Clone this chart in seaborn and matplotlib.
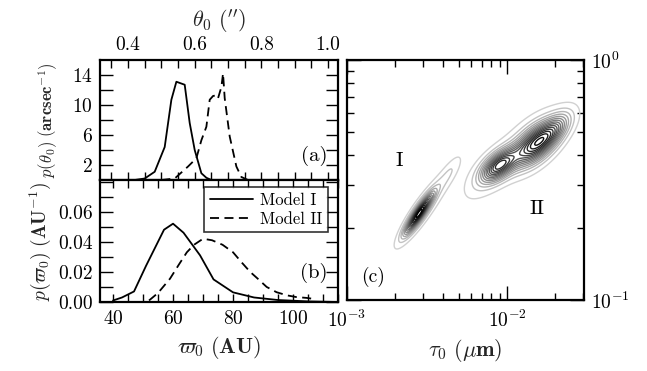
import numpy as np
import pandas as pd
import matplotlib
matplotlib.use("Agg")
import matplotlib.pyplot as plt
import seaborn as sns
from matplotlib.ticker import MultipleLocator, FixedLocator, FormatStrFormatter, NullFormatter

# ---------------- data ----------------
# panel (a): p(theta_0)
theta_I = [0.42, 0.45, 0.48, 0.51, 0.53, 0.545, 0.57, 0.585, 0.60, 0.62, 0.635, 0.65, 0.70]
p_theta_I = [0.0, 0.2, 1.1, 4.4, 10.7, 13.1, 12.7, 7.6, 4.0, 0.9, 0.3, 0.0, 0.0]
theta_II = [0.50, 0.54, 0.58, 0.605, 0.62, 0.635, 0.645, 0.655, 0.665, 0.67, 0.68, 0.685, 0.69, 0.705, 0.725, 0.74, 0.76]
p_theta_II = [0.0, 0.2, 1.8, 2.9, 5.3, 7.1, 10.7, 11.2, 11.3, 10.9, 12.4, 14.2, 10.9, 5.8, 1.8, 0.4, 0.0]

# panel (b): p(varpi_0)
varpi_I = [40, 43, 47, 51, 57, 60, 63.5, 69, 73.5, 80, 87, 95, 105, 115]
p_varpi_I = [0.001, 0.003, 0.007, 0.024, 0.048, 0.052, 0.046, 0.031, 0.015, 0.0064, 0.003, 0.0013, 0.0004, 0.0]
varpi_II = [52, 55, 59, 62, 64.6, 67, 70, 73, 76.5, 80, 83, 85.7, 88.5, 91.2, 94.5, 98, 101, 104.6, 107]
p_varpi_II = [0.001, 0.006, 0.0155, 0.025, 0.033, 0.038, 0.042, 0.041, 0.038, 0.033, 0.026, 0.020,
              0.015, 0.010, 0.0065, 0.0044, 0.0033, 0.0027, 0.002]

models = ["Model I", "Model II"]

# panel (c): density blobs in log10(tau0), log10(y) space
blob_u = [-2.55, -2.50, -2.36, -1.82, -2.05, -1.70, -1.93, -2.18]
blob_v = [-0.64, -0.60, -0.47, -0.35, -0.44, -0.29, -0.37, -0.52]
blob_smaj = [0.075, 0.15, 0.06, 0.10, 0.08, 0.08, 0.17, 0.09]
blob_smin = [0.018, 0.032, 0.02, 0.045, 0.035, 0.035, 0.06, 0.045]
blob_ang = [43, 43, 43, 27, 24, 30, 30, 27]
blob_amp = [1.0, 0.12, 0.07, 0.85, 0.8, 0.35, 0.08, 0.05]

# ---------------- style ----------------
sns.set_style("ticks")
plt.rcParams.update({
    "font.family": ["cmr10", "DejaVu Serif"],
    "mathtext.fontset": "cm",
    "axes.unicode_minus": False,
    "axes.formatter.use_mathtext": True,
    "axes.linewidth": 1.5,
    "axes.edgecolor": "black",
    "xtick.color": "black",
    "ytick.color": "black",
    "text.color": "black",
})

fig = plt.figure(figsize=(6.47, 3.71), dpi=100)
axA = fig.add_axes([0.1546, 0.5148, 0.3679, 0.3235])
axB = fig.add_axes([0.1546, 0.186, 0.3679, 0.3288])
axC = fig.add_axes([0.5363, 0.1914, 0.3663, 0.647])

dfA = pd.DataFrame({
    "theta": theta_I + theta_II,
    "p": p_theta_I + p_theta_II,
    "model": [models[0]] * len(theta_I) + [models[1]] * len(theta_II),
})
dfB = pd.DataFrame({
    "varpi": varpi_I + varpi_II,
    "p": p_varpi_I + p_varpi_II,
    "model": [models[0]] * len(varpi_I) + [models[1]] * len(varpi_II),
})

sns.lineplot(data=dfA, x="theta", y="p", style="model", style_order=models,
             dashes=["", (5, 3)], color="k", lw=1.3, ax=axA, legend=False)
sns.lineplot(data=dfB, x="varpi", y="p", style="model", style_order=models,
             dashes=["", (5, 3)], color="k", lw=1.3, ax=axB, legend=False)

# panel (a) axes
axA.set_xlim(0.316, 1.030)
axA.set_ylim(0, 16)
axA.xaxis.set_major_locator(MultipleLocator(0.2))
axA.xaxis.set_minor_locator(MultipleLocator(0.05))
axA.xaxis.set_major_formatter(FormatStrFormatter("%.1f"))
axA.yaxis.set_major_locator(FixedLocator([2, 6, 10, 14]))
axA.yaxis.set_minor_locator(FixedLocator([4, 8, 12]))
axA.tick_params(axis="x", which="both", direction="in", top=True, bottom=True,
                labeltop=True, labelbottom=False, length=6, width=1.0, labelsize=14, pad=4)
axA.tick_params(axis="y", which="both", direction="in", left=True, right=True,
                length=9, width=1.0, labelsize=14, pad=5)
axA.set_xlabel(r"$\theta_0\ (^{\prime\prime})$", fontsize=16, labelpad=7)
axA.xaxis.set_label_position("top")
axA.set_ylabel(r"$p(\theta_0)\ \mathbf{(arcsec^{-1})}$", fontsize=12, labelpad=9)
axA.text(0.955, 0.2, "(a)", transform=axA.transAxes, ha="right", va="center", fontsize=15)

# panel (b) axes
axB.set_xlim(35.67, 115.0)
axB.set_ylim(0, 0.081)
axB.xaxis.set_major_locator(MultipleLocator(20))
axB.xaxis.set_minor_locator(MultipleLocator(5))
axB.yaxis.set_major_locator(FixedLocator([0.0, 0.02, 0.04, 0.06]))
axB.yaxis.set_minor_locator(MultipleLocator(0.01))
axB.yaxis.set_major_formatter(FormatStrFormatter("%.2f"))
axB.tick_params(axis="x", which="both", direction="in", top=True, bottom=True,
                length=6, width=1.0, labelsize=14, pad=6)
axB.tick_params(axis="y", which="both", direction="in", left=True, right=True,
                length=9, width=1.0, labelsize=14, pad=5)
axB.set_xlabel(r"$\varpi_0\ \mathbf{(AU)}$", fontsize=16, labelpad=4)
axB.set_ylabel(r"$p(\varpi_0)\ \mathbf{(AU^{-1})}$", fontsize=14, labelpad=4)
axB.text(0.955, 0.24, "(b)", transform=axB.transAxes, ha="right", va="center", fontsize=15)
leg = axB.legend(handles=axB.get_lines()[:2], labels=models, loc="upper right",
                 fontsize=12, frameon=True, fancybox=False, edgecolor="black",
                 handlelength=2.6, borderpad=0.35, labelspacing=0.2, handletextpad=0.4,
                 borderaxespad=0.3, bbox_to_anchor=(0.98, 0.985))
leg.get_frame().set_linewidth(1.2)

# panel (c): contour density
u = np.linspace(-3.0, np.log10(0.0303), 400)
v = np.linspace(-1.0, 0.0, 400)
U, V = np.meshgrid(u, v)
Z = np.zeros_like(U)
for cu, cv, sa, sb, ang, amp in zip(blob_u, blob_v, blob_smaj, blob_smin, blob_ang, blob_amp):
    t = np.deg2rad(ang)
    du, dv = U - cu, V - cv
    a = du * np.cos(t) + dv * np.sin(t)
    b = -du * np.sin(t) + dv * np.cos(t)
    Z += amp * np.exp(-0.5 * ((a / sa) ** 2 + (b / sb) ** 2))
nlev = 16
levels = np.linspace(0.04, 0.95, nlev) * Z.max()
greys = [str(g) for g in np.linspace(0.82, 0.0, nlev)]
axC.contour(10 ** U, 10 ** V, Z, levels=levels, colors=greys, linewidths=1.0)
axC.set_xscale("log")
axC.set_yscale("log")
axC.set_xlim(1e-3, 0.0303)
axC.set_ylim(0.1, 1.0)
axC.xaxis.set_minor_formatter(NullFormatter())
axC.yaxis.set_minor_formatter(NullFormatter())
axC.tick_params(axis="both", which="both", direction="in", top=True, bottom=True,
                left=True, right=True, labelleft=False, labelright=True, width=1.0, labelsize=14)
axC.tick_params(axis="both", which="major", length=10)
axC.tick_params(axis="both", which="minor", length=5)
axC.tick_params(axis="x", pad=7)
axC.tick_params(axis="y", pad=5)
axC.set_xlabel(r"$\tau_0\ \mathbf{(\mu m)}$", fontsize=16, labelpad=4)
axC.text(0.22, 0.58, "I", transform=axC.transAxes, ha="center", va="center", fontsize=15)
axC.text(0.80, 0.38, "II", transform=axC.transAxes, ha="center", va="center", fontsize=15)
axC.text(0.06, 0.095, "(c)", transform=axC.transAxes, ha="left", va="center", fontsize=14)

for ax in (axA, axB, axC):
    for s in ax.spines.values():
        s.set_linewidth(1.6)
        s.set_visible(True)

fig.savefig("out.png", dpi=100)
